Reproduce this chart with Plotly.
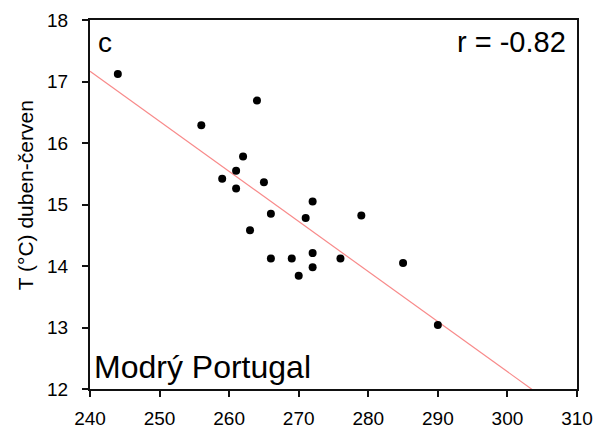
import numpy as np
import plotly.graph_objects as go

# Data
gdd = [244, 256, 264, 262, 261, 259, 261, 265, 272, 266, 271,
       279, 263, 266, 269, 272, 276, 272, 270, 285, 290]
temp = [17.12, 16.29, 16.69, 15.78, 15.55, 15.42, 15.26, 15.36, 15.05, 14.85, 14.78,
        14.82, 14.58, 14.12, 14.12, 14.21, 14.12, 13.98, 13.84, 14.05, 13.04]
x_ticks = [240, 250, 260, 270, 280, 290, 300, 310]
y_ticks = [12, 13, 14, 15, 16, 17, 18]
panel_label = "c"
r_label = "r = -0.82"
variety = "Modrý Portugal"
y_title = "T (°C) duben-červen"

slope, intercept = np.polyfit(gdd, temp, 1)
fit_x = [x_ticks[0], x_ticks[-1]]
fit_y = [slope * v + intercept for v in fit_x]

FONT = "Liberation Sans, Arial, sans-serif"

fig = go.Figure()
fig.add_trace(go.Scatter(x=fit_x, y=fit_y, mode="lines",
                         line=dict(color="#f88a8a", width=1.2),
                         hoverinfo="skip", showlegend=False))
fig.add_trace(go.Scatter(x=gdd, y=temp, mode="markers",
                         marker=dict(color="black", size=8),
                         showlegend=False))

axis_common = dict(showgrid=False, zeroline=False, showline=True, mirror=True,
                   automargin=False,
                   linecolor="#111", linewidth=2, ticks="outside", ticklen=6,
                   tickwidth=1.5, tickcolor="#111",
                   tickfont=dict(family=FONT, size=19, color="black"))

fig.update_xaxes(range=[x_ticks[0], x_ticks[-1]], tickvals=x_ticks,
                 ticklabelstandoff=5, **axis_common)
fig.update_yaxes(range=[y_ticks[0], y_ticks[-1]], tickvals=y_ticks,
                 ticklabelstandoff=10, **axis_common)

fig.add_annotation(text=panel_label, xref="paper", yref="paper", x=0.012, y=0.987,
                   xanchor="left", yanchor="top", showarrow=False,
                   font=dict(family=FONT, size=28, color="black"))
fig.add_annotation(text=r_label, xref="paper", yref="paper", x=0.982, y=0.99,
                   xanchor="right", yanchor="top", showarrow=False,
                   font=dict(family=FONT, size=29, color="black"))
fig.add_annotation(text=variety, xref="paper", yref="paper", x=0.005, y=0.005,
                   xanchor="left", yanchor="bottom", showarrow=False,
                   font=dict(family=FONT, size=32, color="black"))
fig.add_annotation(text=y_title, xref="paper", yref="paper", x=(25 - 90) / 487, y=0.525,
                   xanchor="center", yanchor="middle", showarrow=False, textangle=-90,
                   font=dict(family=FONT, size=21, color="black"))

fig.update_layout(width=595, height=429, margin=dict(l=90, r=18, t=20, b=40),
                  paper_bgcolor="white", plot_bgcolor="white")

fig.write_html("out.html", config={"displayModeBar": False},
               post_script="document.body.style.margin='0px';document.body.style.overflow='hidden';")
